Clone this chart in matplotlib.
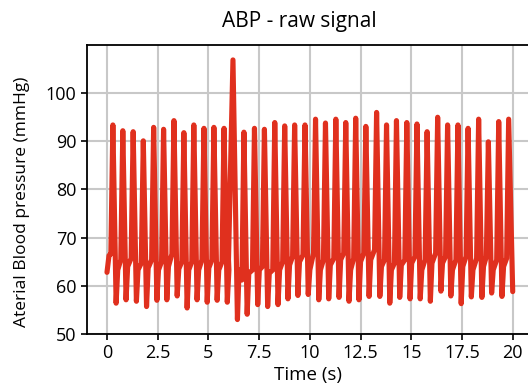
import numpy as np
import matplotlib
matplotlib.use("Agg")
import matplotlib.pyplot as plt

plt.rcParams['font.family'] = ['Open Sans', 'DejaVu Sans']

# beat-by-beat readings of the ABP trace (time in s, pressure in mmHg)
peak_t = [0.29, 0.78, 1.29, 1.79, 2.30, 2.79, 3.30, 3.79, 4.28, 4.78,
          5.27, 5.77, 6.21, 6.75, 7.27, 7.76, 8.27, 8.76, 9.25, 9.76,
          10.28, 10.77, 11.28, 11.77, 12.26, 12.76, 13.29, 13.78, 14.27, 14.78,
          15.28, 15.78, 16.30, 16.79, 17.30, 17.80, 18.32, 18.80, 19.31, 19.80]
peak_v = [93.4, 92.2, 92.0, 90.1, 92.9, 92.5, 94.3, 91.8, 93.4, 92.7,
          92.9, 92.7, 106.9, 91.9, 92.7, 92.5, 93.9, 93.2, 93.4, 93.4,
          94.6, 93.8, 94.6, 93.9, 94.8, 93.1, 96.0, 93.4, 94.3, 93.9,
          93.6, 92.0, 95.0, 93.4, 93.4, 92.7, 94.6, 89.9, 94.1, 94.6]
trough_v = [56.4, 57.1, 56.8, 55.7, 57.0, 57.1, 57.9, 55.4, 57.1, 56.6,
            57.0, 56.6, 53.0, 54.1, 56.1, 55.7, 56.1, 57.3, 58.0, 58.2,
            57.1, 57.3, 57.6, 56.8, 57.1, 57.8, 57.8, 56.4, 57.6, 57.3,
            57.3, 56.8, 58.9, 57.9, 56.3, 57.7, 57.6, 58.5, 57.8]
plat_start = [63.3, 64.0, 63.3, 63.7, 63.3, 64.0, 63.5, 63.3, 63.3, 63.7,
              63.3, 63.3, 63.3, 62.6, 63.3, 62.6, 63.3, 64.3, 65.0, 63.3,
              63.3, 64.3, 65.4, 63.3, 65.0, 65.4, 64.0, 63.3, 64.3, 64.7,
              63.3, 64.7, 64.7, 63.3, 64.0, 63.3, 64.0, 63.3, 64.0]
plat_end = [65.4, 65.7, 64.7, 65.4, 65.0, 66.6, 65.0, 65.0, 65.4, 65.4,
            65.0, 65.4, 61.2, 63.3, 64.0, 63.3, 65.0, 66.1, 66.4, 66.8,
            65.4, 65.7, 66.8, 65.7, 66.8, 67.5, 65.4, 64.7, 65.4, 66.1,
            65.4, 66.8, 66.1, 65.4, 66.1, 65.7, 66.1, 65.4, 65.7]
start_t = [0.0, 0.1]
start_v = [62.8, 66.3]
end_t, end_v = 20.0, 58.8

# the tall ectopic beat is broader than the others
rise = [0.22 if v > 100 else 0.1 for v in peak_v]
fall = [0.22 if v > 100 else 0.16 for v in peak_v]

t = list(start_t) + [peak_t[0] - rise[0]]
v = list(start_v) + [66.6]
for i in range(len(peak_t)):
    t.append(peak_t[i]); v.append(peak_v[i])
    if i < len(peak_t) - 1:
        t += [peak_t[i] + fall[i], peak_t[i] + fall[i] + 0.08, peak_t[i + 1] - rise[i + 1]]
        v += [trough_v[i], plat_start[i], plat_end[i]]
t.append(end_t); v.append(end_v)

xticks = [0, 2.5, 5, 7.5, 10, 12.5, 15, 17.5, 20]
xlabels = ['0', '2.5', '5', '7.5', '10', '12.5', '15', '17.5', '20']
yticks = [50, 60, 70, 80, 90, 100]

fig = plt.figure(figsize=(5.28, 3.85), dpi=100)
ax = fig.add_axes([86.7 / 528, 1 - 334 / 385, (533 - 86.7) / 528, (334 - 45) / 385])
ax.plot(t, v, color='#e0301e', lw=3.7, solid_joinstyle='round', solid_capstyle='round', zorder=3)

ax.set_xlim(-1, 21)
ax.set_ylim(50, 110)
ax.set_xticks(xticks)
ax.set_xticklabels(xlabels)
ax.set_yticks(yticks)
ax.grid(True, color='#c8c8c8', lw=1.5)
ax.set_axisbelow(True)
for s in ax.spines.values():
    s.set_linewidth(1.3)
ax.tick_params(direction='out', length=4, width=1.2, labelsize=13)

fig.text(299 / 528, 1 - 22 / 385, 'ABP - raw signal', ha='center', va='center', fontsize=15)
fig.text(308 / 528, 1 - 375 / 385, 'Time (s)', ha='center', va='center', fontsize=13.5)
fig.text(22 / 528, 1 - 202 / 385, 'Aterial Blood pressure (mmHg)', ha='center', va='center',
         rotation=90, fontsize=12.5)

fig.savefig('out.png', dpi=100)
